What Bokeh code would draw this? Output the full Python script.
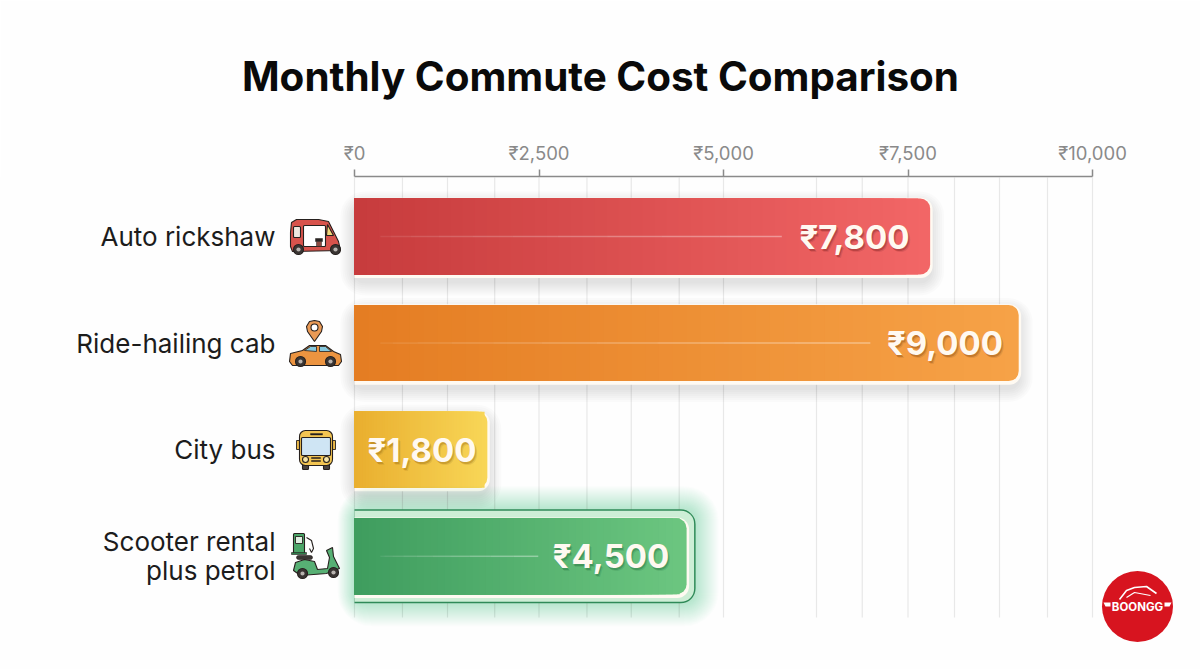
from bokeh.plotting import figure
from bokeh.models import Range1d, FixedTicker
from bokeh.core.properties import value
from bokeh.embed import file_html
from bokeh.resources import INLINE

# ---- data ----
categories = ["Auto rickshaw", "Ride-hailing cab", "City bus", "Scooter rental\nplus petrol"]
costs = [7800, 9000, 1800, 4500]
value_labels = ["₹7,800", "₹9,000", "₹1,800", "₹4,500"]
tick_values = [0, 2500, 5000, 7500, 10000]
tick_labels = ["₹0", "₹2,500", "₹5,000", "₹7,500", "₹10,000"]
minor_grid = [650, 1260, 1900, 3150, 3750, 4400, 6260, 6880, 8130, 8740, 9390]

# ---- styles ----
left_colors = ["#c63b3c", "#e47c22", "#e9ae2e", "#3e9c5e"]
right_colors = ["#f26666", "#f6a247", "#f8d657", "#6cc680"]
shadow_text = ["#7a2020", "#8a4a10", "#9a6a10", "#1f6a3a"]
FONT = "Inter"

# page-pixel geometry of the plot area
FX0, FX1, FY0, FY1 = 0, 1200, 176, 669
X_ZERO, PX_PER_X = 354.0, 0.0738
Y_FIRST, PX_PER_Y = 236.0, 106.6
BAR_H = 76.0 / PX_PER_Y


def dx(px):
    return px / PX_PER_X


def dy(px):
    return px / PX_PER_Y


def X(px):
    return (px - X_ZERO) / PX_PER_X


def Y(px):
    return (px - Y_FIRST) / PX_PER_Y


def mix(a, b, t):
    ca = [int(a[i:i + 2], 16) for i in (1, 3, 5)]
    cb = [int(b[i:i + 2], 16) for i in (1, 3, 5)]
    return "#%02x%02x%02x" % tuple(round(p + (q - p) * t) for p, q in zip(ca, cb))


p = figure(
    width=1200, height=669, output_backend="svg", toolbar_location=None,
    x_range=Range1d(X(FX0), X(FX1)), y_range=Range1d(Y(FY1), Y(FY0)),
    x_axis_location="above", y_axis_location=None,
    min_border_left=0, min_border_right=0, min_border_bottom=0, min_border_top=176,
    background_fill_color="#fefefe", border_fill_color="#fefefe",
)
p.outline_line_color = None
p.grid.visible = False

p.title.text = "Monthly Commute Cost Comparison"
p.title.align = "center"
p.title.text_font = FONT
p.title.text_font_style = "bold"
p.title.text_font_size = "40.4px"
p.title.text_color = "#0a0a0a"
p.title.standoff = 75

ax = p.xaxis[0]
ax.ticker = FixedTicker(ticks=tick_values)
ax.major_label_overrides = dict(zip(tick_values, tick_labels))
ax.bounds = (tick_values[0], tick_values[-1])
ax.axis_line_color = "#8a8a8a"
ax.axis_line_width = 1.5
ax.major_tick_line_color = "#8a8a8a"
ax.major_tick_line_width = 1.5
ax.major_tick_out = 7
ax.major_tick_in = 0
ax.minor_tick_out = 0
ax.minor_tick_in = 0
ax.major_label_standoff = 6
ax.major_label_text_font = FONT
ax.major_label_text_font_size = "18.5px"
ax.major_label_text_color = "#8a8a8a"

# grid lines
all_grid = minor_grid + tick_values
p.segment(x0=all_grid, x1=all_grid, y0=[Y(177)] * len(all_grid), y1=[Y(617)] * len(all_grid),
          line_color="#e8e8e8", line_width=1.2)

# bars
R = 10
for i, v in enumerate(costs):
    green = i == 3
    if green:
        # green glow, fading outward
        for k in range(24, 0, -1):
            p.hbar(y=[i], left=[-dx(k * 0.7)], right=[v + dx(k + 8)], height=[BAR_H + dy(2 * k + 16)],
                   fill_color="#4ccc72", fill_alpha=0.016, line_color=None, border_radius=R + k)
        p.hbar(y=[i], left=[0], right=[v + dx(9)], height=[BAR_H + dy(18)],
               fill_color="#2f8a58", line_color=None, border_radius=(0, 15, 15, 0))
        p.hbar(y=[i], left=[0], right=[v + dx(7.5)], height=[BAR_H + dy(15)],
               fill_color="#cdeed6", line_color=None, border_radius=(0, 13, 13, 0))
    else:
        # soft drop shadow
        for k in range(14, 0, -2):
            p.hbar(y=[i + dy(7)], left=[-dx(k)], right=[v + dx(k)], height=[BAR_H + dy(2 * k)],
                   fill_color="#000000", fill_alpha=0.014, line_color=None, border_radius=R + k)
    # pale rim, heavier at the bottom and right
    p.hbar(y=[i + dy(1.4)], left=[0], right=[v + dx(2.5)], height=[BAR_H + dy(4.4)],
           fill_color="#fffaf2", line_color=None, border_radius=(0, R + 2, R + 2, 0))
    # horizontal gradient: longest slice first, each shorter slice painted over it
    n = 48
    for s in range(n, 0, -1):
        t = s / n
        p.hbar(y=[i], left=[0], right=[v * t], height=[BAR_H],
               fill_color=mix(left_colors[i], right_colors[i], t), line_color=None,
               border_radius=(0, R, R, 0) if s == n else 0)
    # thin highlight line that fades in from the left
    end = v - 2010
    start = 350
    if end > start:
        m = 10
        for s in range(m):
            a = start + (end - start) * (s / m) ** 1.6
            b = start + (end - start) * ((s + 1) / m) ** 1.6 if s < m - 1 else end
            p.segment(x0=[a], x1=[b], y0=[i], y1=[i], line_color="#ffffff",
                      line_alpha=0.08 + 0.32 * s / m, line_width=1.5)

# value labels
label_x = [X(854), X(944.5), X(421.5), X(610.5)]
for i in range(4):
    for off, alpha in ((3, 0.18), (2, 0.35)):
        p.text(x=[label_x[i]], y=[i], text=[value_labels[i]], x_offset=off - 1, y_offset=off,
               text_color=shadow_text[i], text_alpha=alpha, text_align="center", text_baseline="middle",
               text_font=value(FONT), text_font_style="bold", text_font_size="33px")
    p.text(x=[label_x[i]], y=[i], text=[value_labels[i]], text_color="#fff9f1",
           text_align="center", text_baseline="middle",
           text_font=value(FONT), text_font_style="bold", text_font_size="33px")

# category labels
p.text(x=[X(275)] * 4, y=list(range(4)), text=categories, text_color="#1c1c1c",
       text_align="right", text_baseline="middle", text_line_height=0.94,
       text_font=value(FONT), text_font_size="26px")

# ---- icons ----
INK = "#26201e"


def poly(pts, fill, line=INK, w=1.1):
    p.patch([X(a) for a, _ in pts], [Y(b) for _, b in pts], fill_color=fill, line_color=line, line_width=w)


def box(x0, y0, x1, y1, fill, r=0, line=INK, w=1.1):
    p.quad(left=[X(x0)], right=[X(x1)], top=[Y(y0)], bottom=[Y(y1)], fill_color=fill,
           line_color=line, line_width=w, border_radius=r)


def dot(x, y, d, fill, line=INK, w=1.1):
    p.scatter(x=[X(x)], y=[Y(y)], size=d, marker="circle", fill_color=fill, line_color=line, line_width=w)


def wheel(x, y, d=10):
    dot(x, y, d, "#3a3533")
    dot(x, y, d * 0.42, "#b9b4b0", line=None)


# rickshaw
poly([(290, 232), (291, 222), (296, 219), (318, 219), (328, 221), (334, 233), (338, 241), (340, 250),
      (292, 251), (290, 246)], "#d8534c")
poly([(327, 224), (333, 235), (326, 235)], "#f3d77a")
box(303, 225, 325, 246, "#ffffff", r=1)
box(293, 226, 300, 237, "#efe7df", r=1)
box(315, 238, 322, 241, "#2a2523", w=0.5)
box(316, 241, 321, 246, "#8c4a40", w=0.5)
wheel(298, 249)
wheel(335, 249)

# car with pin
poly([(289, 361), (290, 353), (302, 350), (309, 345), (325, 345), (333, 351), (340, 354), (341, 361),
      (338, 365), (292, 365)], "#ec9440")
poly([(304, 350), (310, 346), (316, 346), (316, 351)], "#86c8de", w=0.8)
poly([(319, 346), (325, 346), (331, 351), (319, 351)], "#86c8de", w=0.8)
wheel(300, 361)
wheel(330, 361)
poly([(314, 341), (307, 331), (306, 326), (309, 321), (314, 320), (319, 321), (322, 326), (321, 331)], "#ea9a55")
dot(314, 327, 7, "#ffffff")

# bus
box(302, 464, 308, 469, "#4a4340", r=1)
box(323, 464, 329, 469, "#4a4340", r=1)
box(296, 440, 299, 449, "#e9b84a", w=0.9)
box(332, 440, 335, 449, "#e9b84a", w=0.9)
box(299, 430, 332, 465, "#f3c552", r=6)
box(301, 437, 330, 455, "#cfe5f4", r=1)
box(310, 433, 322, 434.5, "#26201e", w=0.4)
dot(305, 459, 6, "#f8e6a6")
dot(326, 459, 6, "#f8e6a6")
box(311, 457, 320, 458, "#26201e", w=0.5)
box(311, 460, 320, 461, "#26201e", w=0.5)

# scooter and pump
box(293, 533, 304, 553, "#4ba668", r=1)
box(295, 536, 302, 543, "#dff0e2", w=0.9)
box(291, 552, 306, 554, "#2f7d4b", w=0.6)
p.line([X(a) for a in (306, 311, 313, 311, 309)], [Y(b) for b in (537, 540, 548, 552, 548)],
       line_color=INK, line_width=1.1)
poly([(293, 570), (295, 562), (304, 559), (314, 561), (317, 569), (327, 568), (329, 557), (326, 550),
      (332, 547), (333, 556), (339, 568), (326, 573), (300, 575)], "#57b074")
box(296, 555, 312, 559, "#3a3533", r=2, w=0.6)
wheel(302, 573)
wheel(333, 572)

# logo
dot(1137, 606, 71, "#d7141f", line=None)
p.line([X(a) for a in (1119, 1126, 1134, 1146, 1156)], [Y(b) for b in (599, 590, 587, 586, 593)],
       line_color="#ffffff", line_width=1.6)
p.line([X(a) for a in (1126, 1134, 1150)], [Y(b) for b in (597, 592, 595)], line_color="#ffffff", line_width=1.2)
poly([(1103, 602), (1110, 602), (1110, 606), (1105, 606)], "#ffffff", line=None)
poly([(1171, 602), (1164, 602), (1164, 606), (1169, 606)], "#ffffff", line=None)
p.text(x=[X(1137)], y=[Y(606)], text=["BOONGG"], text_color="#ffffff", text_align="center", text_baseline="middle",
       text_font=value(FONT), text_font_style="bold", text_font_size="11.5px")

open("out.html", "w").write(file_html(p, INLINE))
